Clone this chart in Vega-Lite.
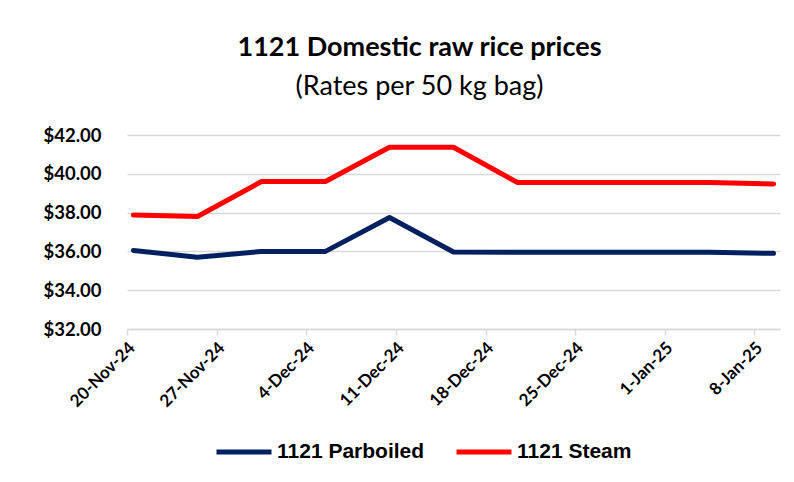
{
  "$schema": "https://vega.github.io/schema/vega-lite/v6.json",
  "width": 653,
  "height": 194,
  "autosize": "none",
  "padding": {"left": 127, "top": 135, "right": 14, "bottom": 153},
  "background": "white",
  "title": {
    "text": "1121 Domestic raw rice prices",
    "subtitle": "(Rates per 50 kg bag)",
    "anchor": "middle",
    "dx": -34,
    "offset": 25,
    "font": "Lato",
    "fontSize": 27,
    "fontWeight": "bold",
    "color": "#000000",
    "subtitleFont": "Lato",
    "subtitleFontSize": 27,
    "subtitleColor": "#000000",
    "subtitlePadding": 12
  },
  "data": {
    "values": [
      {"date": "2024-11-20", "series": "1121 Parboiled", "price": 36.05},
      {"date": "2024-11-25", "series": "1121 Parboiled", "price": 35.7},
      {"date": "2024-11-30", "series": "1121 Parboiled", "price": 36.0},
      {"date": "2024-12-05", "series": "1121 Parboiled", "price": 36.0},
      {"date": "2024-12-10", "series": "1121 Parboiled", "price": 37.75},
      {"date": "2024-12-15", "series": "1121 Parboiled", "price": 35.97},
      {"date": "2024-12-20", "series": "1121 Parboiled", "price": 35.95},
      {"date": "2024-12-25", "series": "1121 Parboiled", "price": 35.95},
      {"date": "2024-12-30", "series": "1121 Parboiled", "price": 35.95},
      {"date": "2025-01-04", "series": "1121 Parboiled", "price": 35.95},
      {"date": "2025-01-09", "series": "1121 Parboiled", "price": 35.9},
      {"date": "2024-11-20", "series": "1121 Steam", "price": 37.87},
      {"date": "2024-11-25", "series": "1121 Steam", "price": 37.8},
      {"date": "2024-11-30", "series": "1121 Steam", "price": 39.6},
      {"date": "2024-12-05", "series": "1121 Steam", "price": 39.6},
      {"date": "2024-12-10", "series": "1121 Steam", "price": 41.37},
      {"date": "2024-12-15", "series": "1121 Steam", "price": 41.37},
      {"date": "2024-12-20", "series": "1121 Steam", "price": 39.55},
      {"date": "2024-12-25", "series": "1121 Steam", "price": 39.55},
      {"date": "2024-12-30", "series": "1121 Steam", "price": 39.55},
      {"date": "2025-01-04", "series": "1121 Steam", "price": 39.55},
      {"date": "2025-01-09", "series": "1121 Steam", "price": 39.48}
    ]
  },
  "mark": {"type": "line", "strokeWidth": 5, "strokeCap": "round", "strokeJoin": "round"},
  "encoding": {
    "x": {
      "field": "date",
      "type": "temporal",
      "timeUnit": "utcyearmonthdate",
      "bandPosition": 0.5,
      "scale": {"type": "utc", "domain": [{"year": 2024, "month": 11, "date": 20, "utc": true}, {"year": 2025, "month": 1, "date": 10, "utc": true}], "nice": false},
      "axis": {
        "title": null,
        "values": [
          {"year": 2024, "month": 11, "date": 20, "utc": true},
          {"year": 2024, "month": 11, "date": 27, "utc": true},
          {"year": 2024, "month": 12, "date": 4, "utc": true},
          {"year": 2024, "month": 12, "date": 11, "utc": true},
          {"year": 2024, "month": 12, "date": 18, "utc": true},
          {"year": 2024, "month": 12, "date": 25, "utc": true},
          {"year": 2025, "month": 1, "date": 1, "utc": true},
          {"year": 2025, "month": 1, "date": 8, "utc": true}
        ],
        "labelExpr": "utcFormat(datum.value, '%-d-%b-%y')",
        "labelAngle": -45,
        "labelAlign": "right",
        "labelBaseline": "middle",
        "labelOffset": 5,
        "labelFont": "Lato",
        "labelFontSize": 17,
        "labelFontWeight": "bold",
        "labelColor": "#000000",
        "labelPadding": 10,
        "grid": false,
        "domainColor": "#d9d9d9",
        "domainWidth": 1.5,
        "tickColor": "#d9d9d9",
        "tickWidth": 1.5,
        "tickSize": 6
      }
    },
    "y": {
      "field": "price",
      "type": "quantitative",
      "scale": {"domain": [32, 42], "nice": false, "zero": false},
      "axis": {
        "title": null,
        "values": [32, 34, 36, 38, 40, 42],
        "format": "$,.2f",
        "domain": false,
        "ticks": false,
        "labelFont": "Lato",
        "labelFontSize": 18.5,
        "labelFontWeight": "bold",
        "labelColor": "#000000",
        "labelPadding": 26,
        "gridColor": "#d9d9d9",
        "gridWidth": 1.5
      }
    },
    "color": {
      "field": "series",
      "type": "nominal",
      "scale": {"domain": ["1121 Parboiled", "1121 Steam"], "range": ["#002060", "#ff0000"]},
      "legend": {
        "title": null,
        "orient": "none",
        "legendX": 87,
        "legendY": 287,
        "direction": "horizontal",
        "symbolType": "stroke",
        "symbolSize": 3025,
        "symbolStrokeWidth": 5,
        "labelFont": "Liberation Sans",
        "labelFontSize": 21,
        "labelFontWeight": "bold",
        "labelColor": "#000000",
        "labelOffset": 3,
        "columnPadding": 21
      }
    }
  },
  "config": {"view": {"stroke": null}}
}
